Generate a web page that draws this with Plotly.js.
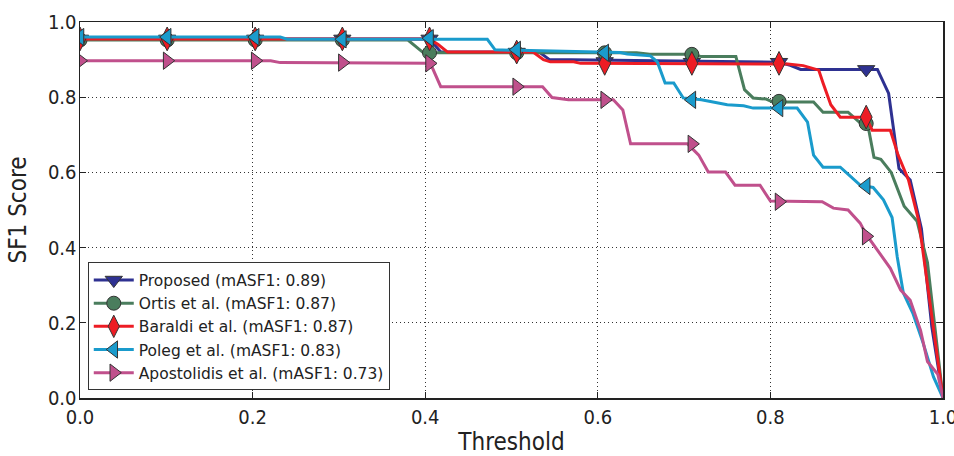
<!DOCTYPE html>
<html>
<head>
<meta charset="utf-8">
<script src="https://cdn.plot.ly/plotly-3.0.1.min.js"></script>
<style>html,body{margin:0;padding:0;background:#fff;}#chart{width:954px;height:456px;}</style>
</head>
<body>
<div id="chart"></div>
<script>
// Series names
const seriesNames = [
  "Proposed (mASF1: 0.89)",
  "Ortis et al. (mASF1: 0.87)",
  "Baraldi et al. (mASF1: 0.87)",
  "Poleg et al. (mASF1: 0.83)",
  "Apostolidis et al. (mASF1: 0.73)"
];

// Curve breakpoints (threshold, SF1 score)
const proposedX = [0, 0.405, 0.418, 0.532, 0.544, 0.81, 0.823, 0.835, 0.911, 0.924, 0.937, 0.949, 0.962, 0.975, 0.987, 1.0];
const proposedY = [0.955, 0.955, 0.92, 0.92, 0.90, 0.893, 0.885, 0.874, 0.874, 0.874, 0.81, 0.61, 0.58, 0.45, 0.19, 0.0];

const ortisX = [0, 0.38, 0.398, 0.645, 0.66, 0.71, 0.72, 0.76, 0.77, 0.78, 0.795, 0.803, 0.85, 0.861, 0.89, 0.905, 0.913, 0.92, 0.928, 0.94, 0.955, 0.97, 0.982, 1.0];
const ortisY = [0.952, 0.952, 0.918, 0.918, 0.914, 0.914, 0.908, 0.908, 0.82, 0.798, 0.795, 0.787, 0.787, 0.76, 0.76, 0.73, 0.725, 0.64, 0.635, 0.60, 0.51, 0.47, 0.36, 0.0];

const baraldiX = [0, 0.405, 0.415, 0.426, 0.525, 0.537, 0.545, 0.572, 0.58, 0.81, 0.82, 0.838, 0.856, 0.861, 0.87, 0.881, 0.911, 0.918, 0.939, 0.948, 0.96, 0.972, 0.982, 0.994, 1.0];
const baraldiY = [0.955, 0.955, 0.94, 0.92, 0.92, 0.90, 0.894, 0.894, 0.89, 0.89, 0.888, 0.884, 0.872, 0.838, 0.78, 0.747, 0.747, 0.712, 0.712, 0.646, 0.58, 0.47, 0.295, 0.10, 0.0];

const polegX = [0, 0.232, 0.24, 0.472, 0.481, 0.56, 0.626, 0.634, 0.661, 0.669, 0.678, 0.688, 0.699, 0.72, 0.75, 0.769, 0.78, 0.831, 0.843, 0.85, 0.861, 0.881, 0.904, 0.919, 0.931, 0.941, 0.947, 0.954, 0.965, 0.977, 0.989, 1.0];
const polegY = [0.96, 0.96, 0.954, 0.954, 0.926, 0.922, 0.919, 0.915, 0.91, 0.894, 0.838, 0.838, 0.798, 0.793, 0.78, 0.777, 0.771, 0.771, 0.734, 0.646, 0.614, 0.614, 0.566, 0.56, 0.527, 0.48, 0.375, 0.28, 0.226, 0.146, 0.056, 0.0];

const apostolidisX = [0, 0.221, 0.232, 0.406, 0.418, 0.536, 0.547, 0.566, 0.618, 0.629, 0.638, 0.704, 0.717, 0.728, 0.748, 0.759, 0.788, 0.8, 0.86, 0.873, 0.89, 0.904, 0.911, 0.919, 0.939, 0.951, 0.962, 0.974, 0.982, 0.994, 1.0];
const apostolidisY = [0.897, 0.897, 0.892, 0.89, 0.828, 0.828, 0.799, 0.793, 0.793, 0.766, 0.676, 0.676, 0.646, 0.601, 0.601, 0.566, 0.566, 0.524, 0.522, 0.505, 0.5, 0.465, 0.435, 0.41, 0.345, 0.287, 0.26, 0.18, 0.097, 0.063, 0.0];

// Marker positions (every 8th threshold sample) and their scores
const markerX = [0, 0.101, 0.203, 0.304, 0.405, 0.506, 0.608, 0.709, 0.81, 0.911];
const proposedM = [0.955, 0.955, 0.955, 0.955, 0.955, 0.92, 0.895, 0.893, 0.893, 0.874];
const ortisM = [0.952, 0.952, 0.952, 0.952, 0.918, 0.918, 0.918, 0.914, 0.789, 0.73];
const baraldiM = [0.955, 0.955, 0.955, 0.955, 0.955, 0.92, 0.89, 0.89, 0.89, 0.747];
const polegM = [0.96, 0.96, 0.96, 0.954, 0.957, 0.926, 0.918, 0.793, 0.771, 0.564];
const apostolidisM = [0.897, 0.897, 0.897, 0.892, 0.89, 0.828, 0.793, 0.676, 0.522, 0.43];

const tickVals = [0, 0.2, 0.4, 0.6, 0.8, 1.0];

const styles = [
  {color: "#2e3191", symbol: "triangle-down", size: 15},
  {color: "#4a7d5d", symbol: "circle", size: 14},
  {color: "#ed1c24", symbol: "diamond-tall", size: 17},
  {color: "#1a9bcc", symbol: "triangle-left", size: 15},
  {color: "#c0508c", symbol: "triangle-right", size: 15}
];

const lineData = [[proposedX, proposedY], [ortisX, ortisY], [baraldiX, baraldiY], [polegX, polegY], [apostolidisX, apostolidisY]];
const markData = [proposedM, ortisM, baraldiM, polegM, apostolidisM];

const traces = [];
lineData.forEach((d, i) => {
  const s = styles[i];
  traces.push({x: d[0], y: d[1], type: "scatter", mode: "lines", showlegend: false, hoverinfo: "skip",
    line: {color: s.color, width: 3}});
  traces.push({x: markerX, y: markData[i], type: "scatter", mode: "markers", showlegend: false,
    marker: {color: s.color, symbol: s.symbol, size: s.size, line: {color: "#333333", width: 1}}});
});
lineData.forEach((d, i) => {
  const s = styles[i];
  traces.push({x: [null], y: [null], type: "scatter", mode: "lines+markers", name: seriesNames[i],
    line: {color: s.color, width: 3},
    marker: {color: s.color, symbol: s.symbol, size: s.size, line: {color: "#333333", width: 1}}});
});

const condensed = "DejaVu Sans Condensed, DejaVu Sans";
const tickFont = {family: condensed, size: 20, color: "#222"};
const layout = {
  width: 954, height: 456,
  margin: {l: 80, r: 11, t: 22, b: 58},
  paper_bgcolor: "#fff", plot_bgcolor: "#fff",
  font: {family: "DejaVu Sans", color: "#222"},
  xaxis: {
    range: [0, 1], tickvals: tickVals, tickformat: ".1f", ticklabeloverflow: "allow",
    title: {text: "Threshold", font: {family: condensed, size: 24, color: "#222"}, standoff: 12},
    tickfont: tickFont, ticks: "inside", ticklen: 6, tickcolor: "#222",
    showline: true, linecolor: "#222", linewidth: 1.5, mirror: "ticks",
    showgrid: true, gridcolor: "#333", griddash: "1px,3px", gridwidth: 1, zeroline: false
  },
  yaxis: {
    range: [0, 1], tickvals: tickVals, tickformat: ".1f", ticklabelstandoff: -2,
    title: {text: "SF1 Score", font: {family: condensed, size: 24, color: "#222"}, standoff: 14},
    tickfont: tickFont, ticks: "inside", ticklen: 6, tickcolor: "#222",
    showline: true, linecolor: "#222", linewidth: 1.5, mirror: "ticks",
    showgrid: true, gridcolor: "#333", griddash: "1px,3px", gridwidth: 1, zeroline: false
  },
  legend: {
    x: 0.009, y: 0.02, xanchor: "left", yanchor: "bottom",
    bgcolor: "#fff", bordercolor: "#333", borderwidth: 1,
    font: {family: "DejaVu Sans", size: 15.5, color: "#222"},
    tracegroupgap: 0, itemwidth: 40
  },
  showlegend: true
};

Plotly.newPlot("chart", traces, layout, {displayModeBar: false, staticPlot: true});
</script>
</body>
</html>
